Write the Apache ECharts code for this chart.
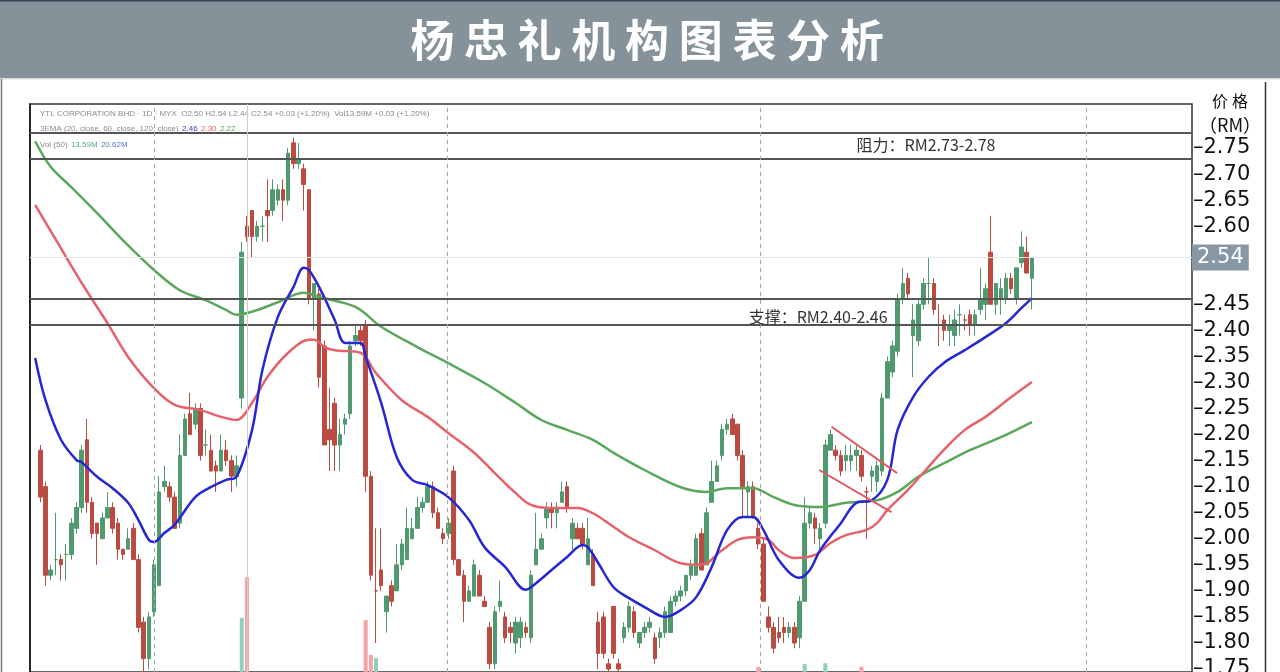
<!DOCTYPE html>
<html>
<head>
<meta charset="utf-8">
<script src="https://cdn.jsdelivr.net/npm/echarts@6/dist/echarts.min.js"></script>
<style>html,body{margin:0;padding:0;background:#fff;}#c{width:1280px;height:672px;}</style>
</head>
<body>
<div id="c"></div>
<script>
// ---------------- data ----------------
const TITLE = '杨忠礼机构图表分析';
const SYMBOL_TEXT = 'YTL CORPORATION BHD · 1D · MYX';
const EMA_TEXT = '3EMA (20, close, 60, close, 120, close)';
const VOL_TEXT = 'Vol (50)';
const VOL_LEGEND = ['13.59M', '20.62M'];
const RES_TEXT = '阻力：RM2.73-2.78';
const SUP_TEXT = '支撑：RM2.40-2.46';
const AXIS_TITLE = ['价', '格'];
const AXIS_UNIT = '（RM）';
const TICK_LABELS = ['1.75','1.80','1.85','1.90','1.95','2.00','2.05','2.10','2.15','2.20','2.25','2.30','2.35','2.40','2.45','2.60','2.65','2.70','2.75'];
const RESISTANCE = [2.783, 2.733];
const SUPPORT = [2.460, 2.408];
const SESSION_BREAKS = [24.0, 80.75, 141.4, 204.6];
const GRID_MARK = [42.0];
const N_CAT = 226;          // category slots across the plot
const OFFSET = 2;           // slot of the first visible candle
const categories = Array.from({length: N_CAT}, (_, k) => 'd' + k);

// [open, close, low, high]
const ohlc = [
[2.17,2.08,2.07,2.18],[2.10,1.93,1.91,2.11],[1.93,1.94,1.92,1.95],[1.96,1.96,1.93,2.05],[1.96,1.95,1.92,1.97],
[1.97,1.97,1.92,1.99],[1.97,2.03,1.96,2.04],[2.02,2.06,2.01,2.07],[2.06,2.17,2.05,2.18],[2.19,2.07,2.05,2.23],
[2.07,2.01,2.00,2.08],[2.03,2.01,1.95,2.03],[2.00,2.04,2.00,2.05],[2.04,2.06,2.04,2.09],[2.06,2.02,2.01,2.07],
[2.03,1.98,1.96,2.04],[1.98,1.97,1.96,1.98],[1.98,2.00,1.98,2.02],[2.02,1.96,1.96,2.03],[1.96,1.83,1.82,1.97],
[1.84,1.77,1.74,1.85],[1.77,1.85,1.75,1.86],[1.86,1.95,1.85,1.96],[1.91,2.09,1.91,2.12],[2.10,2.11,2.09,2.14],
[2.10,2.08,2.07,2.11],[2.08,2.02,2.02,2.09],[2.03,2.16,2.02,2.20],[2.16,2.23,2.16,2.24],[2.24,2.20,2.20,2.28],
[2.22,2.25,2.21,2.26],[2.25,2.16,2.15,2.26],[2.18,2.18,2.16,2.21],[2.17,2.13,2.13,2.20],[2.14,2.13,2.09,2.15],
[2.13,2.17,2.13,2.20],[2.17,2.15,2.14,2.19],[2.15,2.12,2.09,2.16],[2.12,2.14,2.10,2.16],[2.27,2.55,2.25,2.57],
[2.60,2.58,2.57,2.62],[2.63,2.58,2.54,2.63],[2.58,2.60,2.57,2.61],[2.60,2.60,2.57,2.62],[2.63,2.62,2.57,2.69],
[2.63,2.67,2.62,2.69],[2.65,2.67,2.64,2.68],[2.67,2.65,2.61,2.69],[2.65,2.74,2.64,2.75],[2.76,2.72,2.71,2.77],
[2.72,2.73,2.71,2.76],[2.71,2.68,2.63,2.72],[2.67,2.46,2.45,2.67],[2.46,2.49,2.40,2.49],[2.47,2.31,2.29,2.48],
[2.37,2.18,2.18,2.38],[2.21,2.19,2.13,2.29],[2.26,2.18,2.13,2.27],[2.18,2.20,2.13,2.23],[2.22,2.23,2.20,2.24],
[2.24,2.37,2.23,2.38],[2.38,2.39,2.37,2.41],[2.40,2.38,2.37,2.41],[2.41,2.12,2.09,2.42],[2.12,1.93,1.92,2.13],
[1.90,1.90,1.80,2.02],[1.94,1.91,1.90,2.02],[1.86,1.89,1.82,1.89],[1.91,1.88,1.87,1.92],[1.90,1.95,1.90,1.99],
[1.95,1.99,1.94,2.00],[1.96,2.02,1.96,2.06],[2.00,2.02,2.00,2.04],[2.02,2.06,2.02,2.08],[2.06,2.07,2.05,2.08],
[2.07,2.10,2.07,2.11],[2.10,2.05,2.04,2.11],[2.05,2.02,2.02,2.06],[2.01,2.00,1.99,2.02],[2.01,2.03,2.00,2.04],
[2.13,1.96,1.95,2.14],[1.96,1.93,1.93,1.96],[1.93,1.88,1.84,1.94],[1.88,1.90,1.88,1.91],[1.89,1.95,1.89,1.96],
[1.93,1.89,1.89,1.94],[1.88,1.87,1.87,1.89],[1.83,1.76,1.75,1.84],[1.76,1.86,1.75,1.87],[1.87,1.88,1.86,1.92],
[1.85,1.81,1.80,1.86],[1.83,1.82,1.80,1.84],[1.80,1.84,1.78,1.85],[1.81,1.84,1.79,1.85],[1.83,1.82,1.81,1.84],
[1.81,1.93,1.80,1.94],[1.95,1.98,1.95,2.05],[1.98,2.00,1.98,2.01],[2.04,2.06,2.02,2.07],[2.06,2.05,2.02,2.07],
[2.05,2.06,2.02,2.07],[2.07,2.09,2.07,2.11],[2.10,2.06,2.05,2.11],[2.00,2.03,1.98,2.04],[2.02,2.00,2.00,2.03],
[2.02,1.99,1.98,2.03],[1.95,2.00,1.95,2.04],[1.97,1.91,1.91,1.98],[1.84,1.78,1.75,1.86],[1.85,1.78,1.77,1.86],
[1.76,1.75,1.74,1.77],[1.87,1.78,1.77,1.87],[1.76,1.75,1.74,1.77],[1.81,1.83,1.80,1.84],[1.83,1.87,1.82,1.88],
[1.86,1.82,1.81,1.87],[1.80,1.82,1.79,1.82],[1.82,1.83,1.81,1.84],[1.83,1.84,1.82,1.85],[1.81,1.77,1.76,1.82],
[1.81,1.82,1.79,1.83],[1.82,1.86,1.81,1.87],[1.82,1.88,1.82,1.89],[1.88,1.89,1.87,1.90],[1.89,1.90,1.88,1.91],
[1.90,1.93,1.89,1.93],[1.93,1.95,1.92,1.96],[1.93,2.00,1.93,2.01],[2.01,1.94,1.94,2.02],[1.95,2.05,1.95,2.06],
[2.07,2.11,2.07,2.15],[2.11,2.14,2.11,2.15],[2.16,2.21,2.15,2.22],[2.21,2.22,2.20,2.23],[2.23,2.20,2.20,2.24],
[2.22,2.16,2.15,2.22],[2.16,2.10,2.04,2.17],[2.09,2.10,2.04,2.11],[2.10,2.04,2.04,2.11],[2.02,1.99,1.98,2.03],
[1.99,1.88,1.88,2.00],[1.85,1.83,1.82,1.87],[1.83,1.79,1.78,1.84],[1.82,1.81,1.80,1.85],[1.83,1.82,1.80,1.85],
[1.82,1.83,1.81,1.84],[1.83,1.80,1.79,1.84],[1.81,1.88,1.79,1.89],[1.88,2.03,1.88,2.08],[2.03,2.05,2.02,2.06],
[2.04,2.02,1.99,2.05],[2.00,2.02,1.98,2.03],[2.03,2.18,2.02,2.19],[2.17,2.20,2.17,2.21],[2.17,2.16,2.15,2.18],
[2.16,2.13,2.12,2.17],[2.15,2.16,2.13,2.18],[2.15,2.16,2.13,2.18],[2.16,2.17,2.13,2.18],[2.16,2.12,2.11,2.17],
[2.09,2.09,2.00,2.10],[2.12,2.13,2.09,2.14],[2.11,2.14,2.09,2.15],[2.13,2.27,2.12,2.28],[2.27,2.34,2.27,2.35],
[2.32,2.37,2.31,2.38],[2.36,2.46,2.35,2.47],[2.46,2.49,2.45,2.52],[2.50,2.47,2.46,2.51],[2.39,2.42,2.31,2.45],
[2.38,2.45,2.37,2.46],[2.45,2.49,2.44,2.50],[2.49,2.49,2.45,2.54],[2.49,2.44,2.43,2.50],[2.41,2.41,2.37,2.45],
[2.42,2.40,2.38,2.43],[2.40,2.41,2.37,2.43],[2.39,2.42,2.37,2.44],[2.43,2.43,2.39,2.45],[2.42,2.42,2.40,2.43],
[2.43,2.41,2.39,2.44],[2.41,2.43,2.39,2.44],[2.44,2.46,2.43,2.52],[2.45,2.48,2.42,2.49],[2.55,2.45,2.45,2.62],
[2.45,2.49,2.43,2.49],[2.46,2.48,2.43,2.50],[2.46,2.50,2.45,2.51],[2.50,2.48,2.47,2.51],[2.46,2.52,2.45,2.52],
[2.53,2.56,2.52,2.59],[2.55,2.51,2.51,2.58],[2.50,2.54,2.44,2.54]
];

// visible volume bars (candle index, volume in millions)
const volIndex = [39, 40, 63, 64, 65, 139, 148, 152, 159];
const volValue = [34.0, 43.0, 33.5, 25.8, 25.1, 23.2, 23.8, 24.0, 23.2];

// moving averages: [slot, price]
const ema20 = [[1,2.347],[3,2.266],[6,2.190],[9,2.151],[10,2.147],[13,2.119],[16,2.097],[19,2.069],[21,2.036],[23,1.998],[24,1.994],[26,2.011],[28,2.027],[32,2.080],[35,2.099],[38,2.113],[40,2.119],[43,2.209],[45,2.324],[48,2.426],[51,2.483],[53,2.520],[54,2.516],[56,2.483],[59,2.420],[61,2.376],[64,2.376],[65,2.349],[68,2.261],[71,2.157],[74,2.113],[77,2.103],[81,2.080],[85,2.036],[88,1.984],[92,1.946],[96,1.902],[97,1.907],[101,1.940],[104,1.965],[107,1.988],[108,1.984],[110,1.954],[113,1.907],[116,1.886],[119,1.869],[123,1.850],[126,1.863],[129,1.888],[132,1.946],[135,2.017],[138,2.042],[140,2.042],[142,2.017],[145,1.959],[149,1.925],[151,1.940],[153,1.978],[157,2.030],[160,2.069],[163,2.074],[166,2.113],[168,2.209],[171,2.272],[174,2.311],[177,2.338],[181,2.362],[185,2.387],[189,2.414],[192,2.443],[194,2.462]];
const ema60 = [[1,2.641],[5,2.574],[10,2.491],[15,2.414],[19,2.349],[24,2.289],[28,2.257],[33,2.247],[37,2.234],[40,2.228],[43,2.261],[46,2.311],[50,2.357],[54,2.382],[55,2.382],[57,2.368],[59,2.362],[64,2.357],[67,2.318],[72,2.266],[77,2.234],[81,2.203],[86,2.165],[90,2.126],[94,2.088],[97,2.065],[101,2.059],[106,2.059],[109,2.049],[113,2.023],[116,2.003],[121,1.978],[126,1.953],[130,1.950],[134,1.978],[137,1.998],[140,2.003],[143,1.998],[145,1.978],[148,1.963],[152,1.969],[155,1.992],[158,2.007],[162,2.017],[164,2.030],[166,2.055],[170,2.094],[174,2.138],[177,2.171],[181,2.209],[185,2.234],[190,2.272],[194,2.301]];
const ema120 = [[1,2.763],[4,2.714],[8,2.675],[13,2.625],[18,2.573],[24,2.516],[29,2.477],[34,2.458],[38,2.439],[40,2.430],[44,2.439],[48,2.454],[53,2.472],[56,2.464],[63,2.445],[68,2.407],[75,2.368],[81,2.337],[88,2.299],[94,2.261],[99,2.228],[104,2.209],[109,2.190],[113,2.165],[119,2.132],[126,2.099],[131,2.090],[135,2.097],[140,2.097],[144,2.080],[148,2.065],[153,2.061],[158,2.069],[164,2.074],[168,2.090],[172,2.119],[177,2.145],[182,2.170],[188,2.195],[194,2.224]];

// flag channel
const flagUpper = [[155.2, 2.215], [167.9, 2.126]];
const flagLower = [[152.8, 2.132], [166.8, 2.051]];

// ---------------- build ----------------
const UP = '#4f9a6e', DOWN = '#bb4b40';
const last = ohlc[ohlc.length - 1];
const prevClose = ohlc[ohlc.length - 2][1];
const chg = last[1] - prevClose;
const chgPct = chg / prevClose * 100;
const sgn = chg >= 0 ? '+' : '-';
const chgText = sgn + Math.abs(chg).toFixed(2) + ' (' + sgn + Math.abs(chgPct).toFixed(2) + '%)';
const ohlcText = 'O' + last[0].toFixed(2) + ' H' + last[3].toFixed(2) + ' L' + last[2].toFixed(2) + ' C' + last[1].toFixed(2) + ' ' + chgText;
const line1 = SYMBOL_TEXT + '  ' + ohlcText + '  Vol' + VOL_LEGEND[0] + ' ' + chgText;
const lastOf = a => a[a.length - 1][1].toFixed(2);

const TICK_VALUES = TICK_LABELS.map(Number);
const candleData = ohlc.map((d, i) => [i + OFFSET, d[0], d[1], d[2], d[3]]);
const volData = volIndex.map((k, j) => ({
  value: [k + OFFSET, volValue[j]],
  itemStyle: {color: ohlc[k][1] >= ohlc[k][0] ? '#8fd0b9' : '#f4a3a6'}
}));

const chart = echarts.init(document.getElementById('c'), null, {renderer: 'canvas', width: 1280, height: 672});

const titleRich = TITLE.split('').map(ch => '{c|' + ch + '}').join('');
const axisTitleRich = AXIS_TITLE.map(ch => '{p|' + ch + '}').join('');

const option = {
  animation: false,
  backgroundColor: '#ffffff',
  grid: [
    {left: 30, right: 88, top: 104, bottom: 0, outerBoundsMode: 'none', containLabel: false,
     show: true, borderColor: '#333', borderWidth: 1.5, backgroundColor: 'transparent'},
    {left: 30, right: 88, top: 500, bottom: 0, outerBoundsMode: 'none', containLabel: false, show: false}
  ],
  xAxis: [
    {type: 'category', data: categories, boundaryGap: false, gridIndex: 0, show: false},
    {type: 'value', min: 0, max: N_CAT - 1, gridIndex: 0, show: false},
    {type: 'category', data: categories, boundaryGap: false, gridIndex: 1, show: false}
  ],
  yAxis: [
    {
      type: 'value', position: 'right', gridIndex: 0, min: 1.7443, max: 2.8345,
      axisLine: {show: true, lineStyle: {color: '#111', width: 1.5}},
      axisTick: {show: false},
      axisLabel: {
        show: true, customValues: TICK_VALUES, margin: 1, color: '#111', fontSize: 21, fontFamily: 'DejaVu Sans',
        padding: [5, 0, 0, 0],
        formatter: v => (TICK_LABELS.indexOf(Number(v).toFixed(2)) >= 0 ? '–' + Number(v).toFixed(2) : '')
      },
      splitLine: {show: false}
    },
    {type: 'value', gridIndex: 1, min: 22.06, max: 60, show: false}
  ],
  series: [
    {
      name: 'YTL', type: 'candlestick', xAxisIndex: 0, yAxisIndex: 0,
      data: candleData, encode: {x: 0, y: [1, 2, 3, 4]},
      barWidth: 4,
      itemStyle: {color: UP, color0: DOWN, borderColor: UP, borderColor0: DOWN, borderWidth: 1},
      markLine: {
        silent: true, symbol: ['none', 'none'], animation: false,
        lineStyle: {color: '#e4e4e4', width: 1, type: 'solid'},
        label: {
          show: true, position: 'end', distance: 0, formatter: () => last[1].toFixed(2),
          backgroundColor: '#8797a3', color: '#fff', fontSize: 21, fontFamily: 'DejaVu Sans', padding: [3, 5, 2, 5]
        },
        data: [{yAxis: last[1]}]
      },
      z: 2
    },
    {
      name: 'Vol', type: 'bar', xAxisIndex: 2, yAxisIndex: 1, data: volData, barWidth: 4, z: 1
    },
    {
      name: 'EMA120', type: 'line', xAxisIndex: 1, yAxisIndex: 0, data: ema120, smooth: 0.35, symbol: 'none',
      lineStyle: {color: '#5ba75c', width: 2.5}, z: 3
    },
    {
      name: 'EMA60', type: 'line', xAxisIndex: 1, yAxisIndex: 0, data: ema60, smooth: 0.35, symbol: 'none',
      lineStyle: {color: '#e5626a', width: 2.5}, z: 3
    },
    {
      name: 'EMA20', type: 'line', xAxisIndex: 1, yAxisIndex: 0, data: ema20, smooth: 0.35, symbol: 'none',
      lineStyle: {color: '#2626d4', width: 2.5}, z: 4
    },
    {
      name: 'FlagUpper', type: 'line', xAxisIndex: 1, yAxisIndex: 0, data: flagUpper, symbol: 'none',
      lineStyle: {color: '#e05a62', width: 2}, z: 5
    },
    {
      name: 'FlagLower', type: 'line', xAxisIndex: 1, yAxisIndex: 0, data: flagLower, symbol: 'none',
      lineStyle: {color: '#e05a62', width: 2}, z: 5,
      markLine: {
        silent: true, symbol: ['none', 'none'], animation: false, label: {show: false},
        data: [
          ...RESISTANCE.concat(SUPPORT).map(v => ({yAxis: v, lineStyle: {color: '#555', width: 2, type: 'solid'}})),
          ...SESSION_BREAKS.map(x => ({xAxis: x, lineStyle: {color: '#a8a8a8', width: 1, type: [4, 4]}})),
          ...GRID_MARK.map(x => ({xAxis: x, lineStyle: {color: '#cccccc', width: 1, type: 'solid'}}))
        ]
      },
      markPoint: {
        silent: true, symbol: 'circle', symbolSize: 0, animation: false,
        label: {show: true, position: 'inside', formatter: p => p.name, color: '#333', fontSize: 16, fontFamily: 'Noto Sans CJK SC'},
        data: [
          {name: RES_TEXT, coord: [173.5, 2.756]},
          {name: SUP_TEXT, coord: [152.6, 2.426]}
        ]
      }
    }
  ],
  graphic: [
    {type: 'rect', shape: {x: 0, y: 0, width: 1280, height: 78}, style: {fill: '#86929a'}},
    {type: 'rect', shape: {x: 0, y: 0, width: 1280, height: 1.5}, style: {fill: '#3b4650'}},
    {type: 'rect', shape: {x: 0, y: 78, width: 1280, height: 1.5}, style: {fill: '#d7dce0'}},
    {type: 'text', x: 647, y: 40, style: {
      text: titleRich, align: 'center', verticalAlign: 'middle',
      rich: {c: {width: 53.7, align: 'center', fill: '#ffffff', fontSize: 44, fontWeight: 'bold', fontFamily: 'Noto Sans CJK SC'}}
    }},
    {type: 'line', shape: {x1: 1.5, y1: 79, x2: 1.5, y2: 672}, style: {stroke: '#777', lineWidth: 1.5}},
    {type: 'line', shape: {x1: 1265.5, y1: 82, x2: 1265.5, y2: 672}, style: {stroke: '#333', lineWidth: 1.5}},
    {type: 'text', x: 1230, y: 101, style: {
      text: axisTitleRich, align: 'center', verticalAlign: 'middle',
      rich: {p: {width: 20, align: 'center', fill: '#111', fontSize: 16, fontFamily: 'Noto Sans CJK SC'}}
    }},
    {type: 'text', x: 1230, y: 125, style: {text: AXIS_UNIT, align: 'center', verticalAlign: 'middle', fill: '#111', fontSize: 18, fontFamily: 'Noto Sans CJK SC'}},
    {type: 'text', x: 40, y: 114, style: {text: line1, align: 'left', verticalAlign: 'middle', fill: '#8a8a8a', fontSize: 8, fontFamily: 'Liberation Sans'}},
    {type: 'text', x: 40, y: 129, style: {
      text: '{g|' + EMA_TEXT + '} {b|' + lastOf(ema20) + '} {r|' + lastOf(ema60) + '} {n|' + lastOf(ema120) + '}',
      align: 'left', verticalAlign: 'middle',
      rich: {
        g: {fill: '#8a8a8a', fontSize: 8, fontFamily: 'Liberation Sans'},
        b: {fill: '#3b3bd6', fontSize: 8, fontFamily: 'Liberation Sans'},
        r: {fill: '#e5626a', fontSize: 8, fontFamily: 'Liberation Sans'},
        n: {fill: '#5ba75c', fontSize: 8, fontFamily: 'Liberation Sans'}
      }
    }},
    {type: 'text', x: 40, y: 145, style: {
      text: '{g|' + VOL_TEXT + '} {t|' + VOL_LEGEND[0] + '} {b|' + VOL_LEGEND[1] + '}',
      align: 'left', verticalAlign: 'middle',
      rich: {
        g: {fill: '#8a8a8a', fontSize: 8, fontFamily: 'Liberation Sans'},
        t: {fill: '#4aa89a', fontSize: 8, fontFamily: 'Liberation Sans'},
        b: {fill: '#5577cc', fontSize: 8, fontFamily: 'Liberation Sans'}
      }
    }}
  ]
};
chart.setOption(option);
</script>
</body>
</html>
